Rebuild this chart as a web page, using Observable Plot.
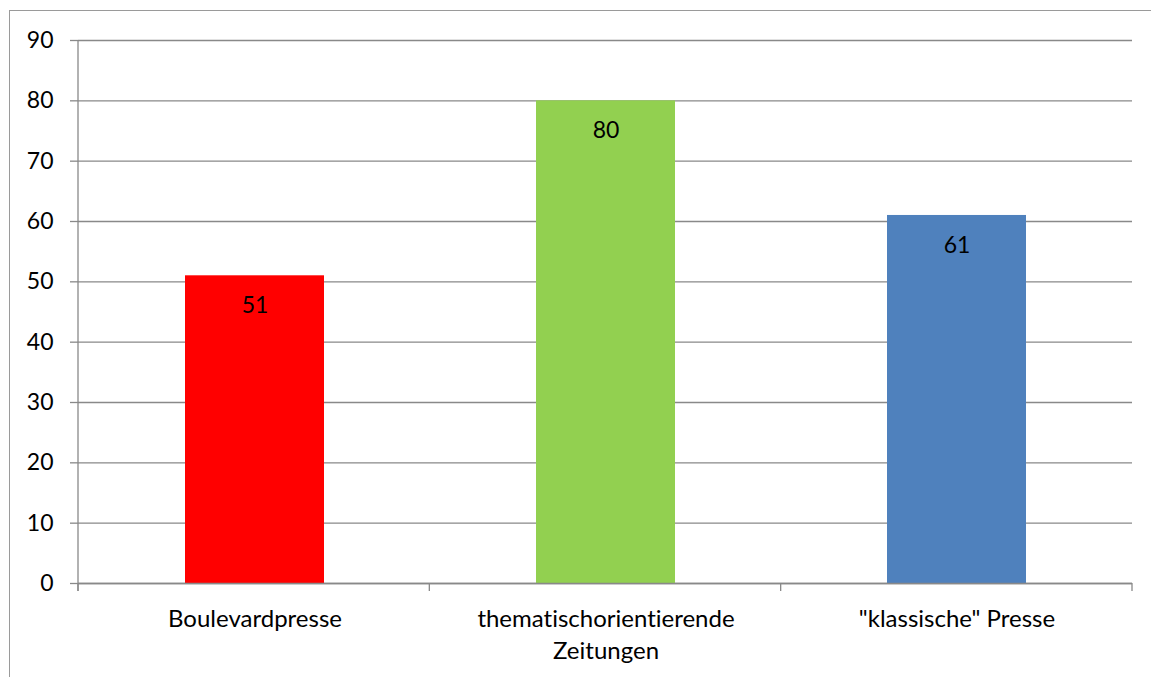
<!DOCTYPE html>
<html>
<head>
<meta charset="utf-8">
<script src="https://cdn.jsdelivr.net/npm/d3@7"></script>
<script src="https://cdn.jsdelivr.net/npm/@observablehq/plot@0.6"></script>
<style>
  html, body { margin: 0; padding: 0; background: #fff; overflow: hidden; }
  #wrap { position: relative; width: 1151px; height: 677px; }
  #border { position: absolute; left: 9px; top: 10px; width: 1200px; height: 700px;
            border-top: 1.5px solid #9a9a9a; border-left: 1.5px solid #9a9a9a; }
  #chart { position: absolute; left: 0; top: 0; }
  #chart svg text { font-variant-ligatures: none; font-feature-settings: "liga" 0; }
</style>
</head>
<body>
<div id="wrap"><div id="border"></div><div id="chart"></div></div>
<script>
const categories = ["Boulevardpresse", "thematischorientierende Zeitungen", "\"klassische\" Presse"];
const tickLabels = ["Boulevardpresse", "thematischorientierende\nZeitungen", "\"klassische\" Presse"];
const values = [51, 80, 61];
const colors = ["#FF0000", "#92D050", "#4F81BD"];
const yTicks = [0, 10, 20, 30, 40, 50, 60, 70, 80, 90];

const data = categories.map((c, i) => ({category: c, value: values[i]}));
const gridColor = "#898989";
const font = "Lato, 'Open Sans', sans-serif";

// x-axis tick marks at category boundaries (plus left y-axis line)
function boundaryTicks(...args) {
  const dims = args.find(a => a && typeof a === "object" && "marginLeft" in a && "width" in a);
  const g = d3.create("svg:g").attr("stroke", gridColor).attr("stroke-width", 1.3);
  const x0 = dims.marginLeft, x1 = dims.width - dims.marginRight;
  const y0 = dims.height - dims.marginBottom;
  const n = categories.length;
  const step = (x1 - x0) / n;
  for (let i = 0; i <= n; i++) {
    const x = x0 + i * step;
    g.append("line").attr("x1", x).attr("x2", x).attr("y1", y0).attr("y2", y0 + 8);
  }
  g.append("line").attr("x1", x0).attr("x2", x0).attr("y1", dims.marginTop).attr("y2", y0 + 8);
  return g.node();
}

const plot = Plot.plot({
  width: 1151,
  height: 677,
  marginLeft: 78,
  marginRight: 19,
  marginTop: 40,
  marginBottom: 94,
  style: {fontFamily: font, fontSize: "21px", color: "#000", background: "transparent"},
  x: {domain: categories, paddingInner: 0.605, paddingOuter: 0.3025, label: null},
  y: {domain: [0, 90], label: null},
  color: {domain: categories, range: colors},
  marks: [
    Plot.gridY(yTicks, {stroke: gridColor, strokeOpacity: 1, strokeWidth: 1.3}),
    Plot.barY(data, {x: "category", y: "value", fill: "category"}),
    Plot.text(data, {x: "category", y: "value", text: d => String(d.value), dy: 30, fontSize: 23, fill: "#000"}),
    Plot.axisY({ticks: yTicks, tickSize: 8, tickPadding: 17, stroke: gridColor, strokeWidth: 1.3, fill: "#000", fontSize: 23, label: null}),
    Plot.axisX({tickSize: 0, tickPadding: 20, fontSize: 24, fill: "#000", lineHeight: 1.35, label: null,
                tickFormat: d => tickLabels[categories.indexOf(d)]}),
    Plot.ruleY([0], {stroke: gridColor, strokeWidth: 1.3}),
    boundaryTicks
  ]
});
document.getElementById("chart").appendChild(plot);
</script>
</body>
</html>
